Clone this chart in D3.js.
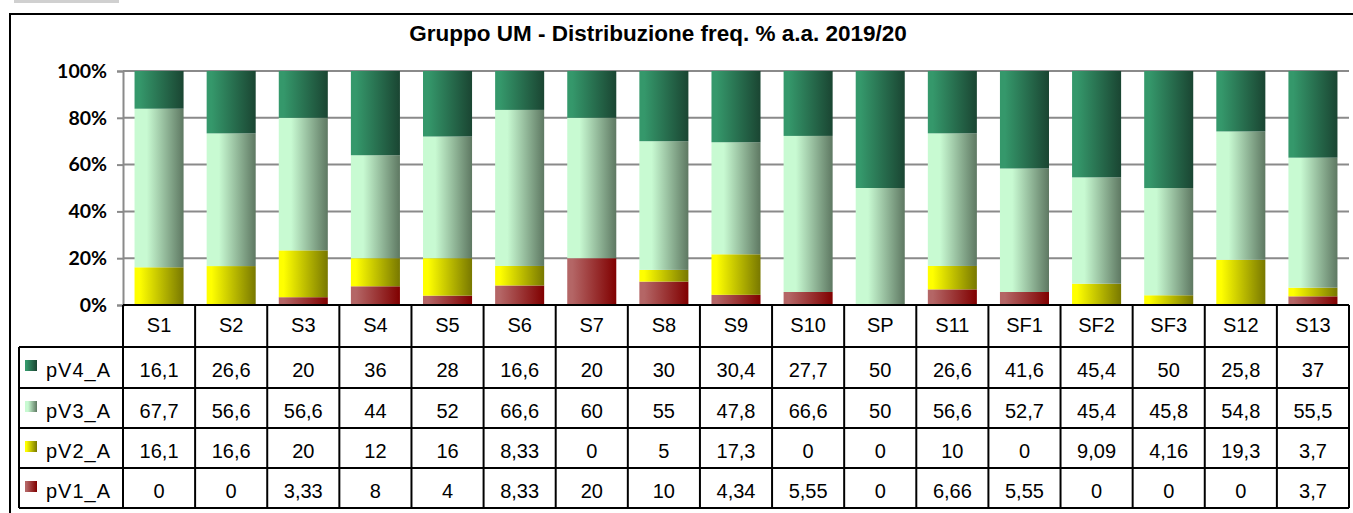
<!DOCTYPE html>
<html>
<head>
<meta charset="utf-8">
<style>
  html, body { margin: 0; padding: 0; background: #fff; }
  svg { display: block; }
</style>
</head>
<body>
<div id="chart"></div>

<script src="https://d3js.org/d3.v7.min.js"></script>
<script>
// dati della tabella (valori % per sede)
const categories = ["S1","S2","S3","S4","S5","S6","S7","S8","S9","S10","SP","S11","SF1","SF2","SF3","S12","S13"];
const pV4_A = [16.1,26.6,20,36,28,16.6,20,30,30.4,27.7,50,26.6,41.6,45.4,50,25.8,37];
const pV3_A = [67.7,56.6,56.6,44,52,66.6,60,55,47.8,66.6,50,56.6,52.7,45.4,45.8,54.8,55.5];
const pV2_A = [16.1,16.6,20,12,16,8.33,0,5,17.3,0,0,10,0,9.09,4.16,19.3,3.7];
const pV1_A = [0,0,3.33,8,4,8.33,20,10,4.34,5.55,0,6.66,5.55,0,0,0,3.7];
const seriesNames = ["pV1_A","pV2_A","pV3_A","pV4_A"];
const yTicks = [0, 0.2, 0.4, 0.6, 0.8, 1];
const title = "Gruppo UM - Distribuzione freq. % a.a. 2019/20";

const seriesValues = {pV1_A, pV2_A, pV3_A, pV4_A};
// colori gradiente: [chiaro, scuro]
const colors = {
  pV4_A: ["#35986b", "#1a4532"],
  pV3_A: ["#c8fad2", "#5e7862"],
  pV2_A: ["#ffff00", "#787800"],
  pV1_A: ["#b46666", "#800000"]
};

const width = 1353, height = 513;
const plotLeft = 123, plotRight = 1349, plotTop = 71, plotBottom = 305;
const tableLeft = 19;
const rowEdges = [305, 347, 388, 428, 468, 508];

const svg = d3.select("#chart").append("svg")
  .attr("width", width)
  .attr("height", height);

const defs = svg.append("defs");
seriesNames.forEach(name => {
  const g = defs.append("linearGradient")
    .attr("id", "grad-" + name)
    .attr("x1", "0%").attr("x2", "100%").attr("y1", "0%").attr("y2", "0%");
  g.append("stop").attr("offset", "0%").attr("stop-color", colors[name][0]);
  g.append("stop").attr("offset", name === "pV3_A" ? "25%" : "10%").attr("stop-color", colors[name][0]);
  g.append("stop").attr("offset", "100%").attr("stop-color", colors[name][1]);
});

// rettangolino grigio in alto
svg.append("rect")
  .attr("x", 14).attr("y", 0).attr("width", 105).attr("height", 3)
  .attr("fill", "#d0d0d0");

// bordo esterno
svg.append("path")
  .attr("d", `M10,${height} V14 H${width}`)
  .attr("fill", "none")
  .attr("stroke", "#000")
  .attr("stroke-width", 2);

svg.append("text")
  .attr("x", 658).attr("y", 41)
  .attr("text-anchor", "middle")
  .style("font-family", "'Liberation Sans', Arial, sans-serif")
  .style("font-weight", "bold")
  .style("font-size", "22.5px")
  .text(title);

const x = d3.scaleBand()
  .domain(categories)
  .range([plotLeft, plotRight])
  .paddingInner(0.32)
  .paddingOuter(0.16);
const step = x.step();
const colLeft = c => x(c) - step * 0.16;

const y = d3.scaleLinear().domain([0, 1]).range([plotBottom, plotTop]);

// griglia
svg.append("g")
  .selectAll("line")
  .data(yTicks.slice(1))
  .join("line")
  .attr("x1", plotLeft).attr("x2", plotRight)
  .attr("y1", d => y(d)).attr("y2", d => y(d))
  .attr("stroke", "#8a8a8a")
  .attr("stroke-width", 2);

// asse y
const yAxis = svg.append("g")
  .attr("transform", `translate(${plotLeft},0)`)
  .call(d3.axisLeft(y).tickValues(yTicks).tickFormat(d3.format(".0%")).tickSize(6).tickPadding(10));
yAxis.select(".domain").attr("stroke", "#8a8a8a").attr("stroke-width", 2);
yAxis.selectAll(".tick line").attr("stroke", "#8a8a8a").attr("stroke-width", 2);
yAxis.selectAll(".tick text")
  .style("font-family", "Lato, 'Liberation Sans', sans-serif")
  .style("font-weight", "bold")
  .style("font-size", "19.5px")
  .attr("fill", "#000");

// barre in pila al 100%
const rows = categories.map((c, i) => {
  const r = {cat: c};
  seriesNames.forEach(n => r[n] = seriesValues[n][i]);
  return r;
});
const stacked = d3.stack().keys(seriesNames).offset(d3.stackOffsetExpand)(rows);

svg.append("g")
  .selectAll("g")
  .data(stacked)
  .join("g")
  .attr("fill", d => `url(#grad-${d.key})`)
  .selectAll("rect")
  .data(d => d)
  .join("rect")
  .attr("x", d => x(d.data.cat))
  .attr("width", x.bandwidth())
  .attr("y", d => y(d[1]))
  .attr("height", d => Math.max(0, y(d[0]) - y(d[1])));

// tabella dati
const table = svg.append("g");
const fmt = v => String(v).replace(".", ",");
const tableFont = "'Liberation Sans', Arial, sans-serif";

// intestazioni
table.selectAll("text.head")
  .data(categories)
  .join("text")
  .attr("class", "head")
  .attr("x", c => colLeft(c) + step / 2)
  .attr("y", rowEdges[0] + 26.5)
  .attr("text-anchor", "middle")
  .style("font-family", tableFont)
  .style("font-size", "20px")
  .text(c => c);

const tableSeries = ["pV4_A", "pV3_A", "pV2_A", "pV1_A"];
tableSeries.forEach((name, r) => {
  const top = rowEdges[r + 1];
  table.append("rect")
    .attr("x", 25).attr("y", top + 13)
    .attr("width", 12).attr("height", 11)
    .attr("fill", `url(#grad-${name})`);
  table.append("text")
    .attr("x", 46).attr("y", top + 30)
    .style("font-family", tableFont)
    .style("font-size", "20px")
    .attr("letter-spacing", "1px")
    .text(name);
  table.selectAll(null)
    .data(seriesValues[name])
    .join("text")
    .attr("x", (v, i) => colLeft(categories[i]) + step / 2)
    .attr("y", top + 30)
    .attr("text-anchor", "middle")
    .style("font-family", tableFont)
    .style("font-size", "20px")
    .text(v => fmt(v));
});

// linee della tabella
const lineColor = "#000";
// orizzontali
table.append("line")
  .attr("x1", plotLeft).attr("x2", plotRight)
  .attr("y1", rowEdges[0]).attr("y2", rowEdges[0])
  .attr("stroke", lineColor).attr("stroke-width", 2);
rowEdges.slice(1).forEach(yy => {
  table.append("line")
    .attr("x1", tableLeft).attr("x2", plotRight)
    .attr("y1", yy).attr("y2", yy)
    .attr("stroke", lineColor).attr("stroke-width", 2);
});
// verticali
const colEdges = categories.map(c => colLeft(c)).concat([plotRight]);
table.selectAll("line.v")
  .data(colEdges)
  .join("line")
  .attr("class", "v")
  .attr("x1", d => d).attr("x2", d => d)
  .attr("y1", rowEdges[0]).attr("y2", rowEdges[5])
  .attr("stroke", lineColor).attr("stroke-width", 2);
table.append("line")
  .attr("x1", tableLeft).attr("x2", tableLeft)
  .attr("y1", rowEdges[1]).attr("y2", rowEdges[5])
  .attr("stroke", lineColor).attr("stroke-width", 2);
</script>
</body>
</html>
